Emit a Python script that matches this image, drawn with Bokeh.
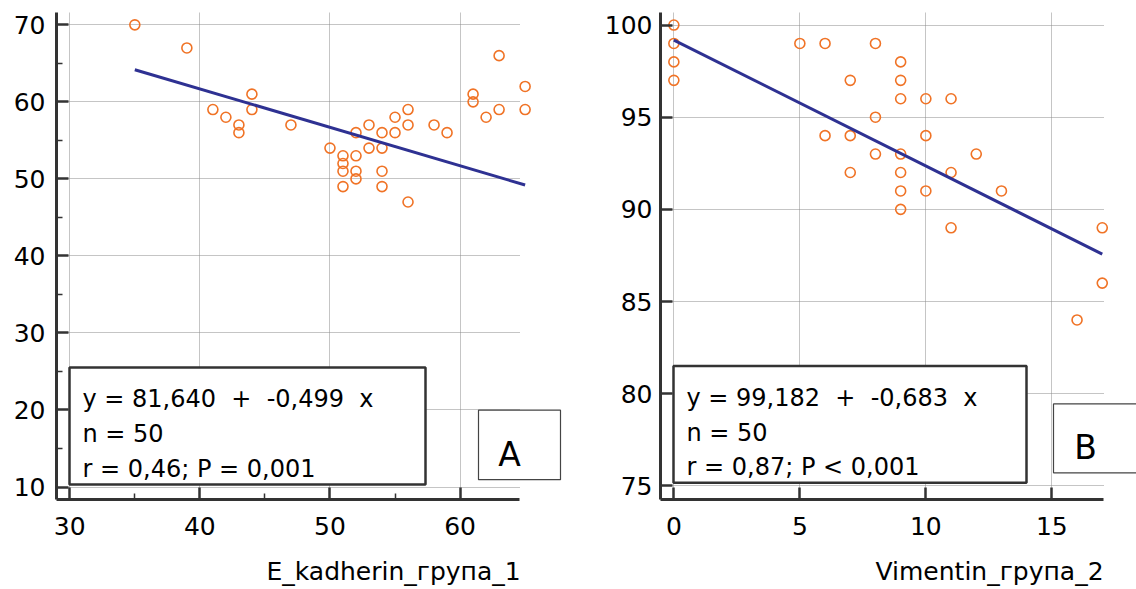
import numpy as np
from bokeh.plotting import figure
from bokeh.models import Range1d, FixedTicker, Label, BoxAnnotation, Title
from bokeh.layouts import row
from bokeh.embed import file_html
from bokeh.resources import INLINE

# ---------------- data ----------------
# Panel A: E_kadherin_група_1
a_x = [35, 39, 41, 42, 43, 43, 44, 44, 47, 50, 51, 51, 51, 51, 52, 52, 52, 52, 53, 53,
       54, 54, 54, 54, 55, 55, 56, 56, 56, 58, 59, 61, 61, 62, 63, 63, 65, 65]
a_y = [70, 67, 59, 58, 57, 56, 61, 59, 57, 54, 53, 52, 51, 49, 56, 53, 51, 50, 57, 54,
       56, 54, 51, 49, 58, 56, 59, 57, 47, 57, 56, 61, 60, 58, 59, 66, 62, 59]
a_intercept, a_slope = 81.640, -0.499
a_xticks = [30, 40, 50, 60]
a_xminor = [35, 45, 55]
a_yticks = [10, 20, 30, 40, 50, 60, 70]
a_yminor = [15, 25, 35, 45, 55, 65]
a_lines = ["y = 81,640 \u00a0+ \u00a0-0,499 \u00a0x", "n = 50", "r = 0,46; P = 0,001"]
a_title = "E_kadherin_група_1"
a_tag = "A"

# Panel B: Vimentin_група_2
b_x = [0, 0, 0, 0, 5, 6, 6, 7, 7, 7, 8, 8, 8, 9, 9, 9, 9, 9, 9, 9,
       10, 10, 10, 11, 11, 11, 12, 13, 16, 17, 17]
b_y = [100, 99, 98, 97, 99, 99, 94, 97, 94, 92, 99, 95, 93, 98, 97, 96, 93, 92, 91, 90,
       96, 94, 91, 96, 92, 89, 93, 91, 84, 89, 86]
b_intercept, b_slope = 99.182, -0.683
b_xticks = [0, 5, 10, 15]
b_yticks = [75, 80, 85, 90, 95, 100]
b_lines = ["y = 99,182 \u00a0+ \u00a0-0,683 \u00a0x", "n = 50", "r = 0,87; P < 0,001"]
b_title = "Vimentin_група_2"
b_tag = "B"

ORANGE = "#F07326"
NAVY = "#2E3192"
AXIS = "#333333"
FONT = "DejaVu Sans"
H = 589


def make_fig(width, xr, xb, yr, mbl, mbb, xt, yt, xminor=None, yminor=None, ystand=10):
    p = figure(width=width, height=H, x_range=Range1d(*xr), y_range=Range1d(*yr),
               output_backend="svg", toolbar_location=None,
               min_border_left=mbl, min_border_right=0, min_border_top=12,
               min_border_bottom=mbb, outline_line_color=None,
               background_fill_color="white", border_fill_color="white")
    p.xaxis.ticker = FixedTicker(ticks=xt, minor_ticks=xminor or [])
    p.yaxis.ticker = FixedTicker(ticks=yt, minor_ticks=yminor or [])
    p.xaxis.bounds = xb
    for ax in (p.xaxis[0], p.yaxis[0]):
        ax.axis_line_color = AXIS
        ax.axis_line_width = 3
        ax.major_tick_in = 12
        ax.major_tick_out = 0
        ax.major_tick_line_color = AXIS
        ax.major_tick_line_width = 2.5
        ax.minor_tick_in = 6
        ax.minor_tick_out = 0
        ax.minor_tick_line_color = AXIS
        ax.minor_tick_line_width = 1.5
        ax.major_label_text_font = FONT
        ax.major_label_text_font_size = "25px"
        ax.major_label_text_color = "black"
    p.xaxis.major_label_standoff = 17
    p.yaxis.major_label_standoff = ystand
    for g in (p.xgrid[0], p.ygrid[0]):
        g.grid_line_color = "#8a8a8a"
        g.grid_line_dash = "1 1"
        g.grid_line_width = 1
    p.ygrid[0].cross_bounds = xb
    return p


def mapper(left, top, scale_x, scale_y, x0, y1):
    def fx(px):
        return x0 + (px - left) / scale_x

    def fy(py):
        return y1 - (py - top) / scale_y
    return fx, fy


def decorate(p, fx, fy, box, lines, text_left, baselines, tagbox, tag_pos, title, title_off):
    l, r, t, b = box
    p.add_layout(BoxAnnotation(left=fx(l), right=fx(r), top=fy(t), bottom=fy(b),
                               fill_color="white", fill_alpha=1.0,
                               line_color=AXIS, line_width=2.5, line_alpha=1.0))
    for txt, bl in zip(lines, baselines):
        p.add_layout(Label(x=fx(text_left), y=fy(bl), text=txt, text_font=FONT,
                           text_font_size="24px", text_color="black",
                           text_baseline="alphabetic", text_align="left"))
    l, r, t, b = tagbox
    p.add_layout(BoxAnnotation(left=fx(l), right=fx(r), top=fy(t), bottom=fy(b),
                               fill_color="white", fill_alpha=1.0,
                               line_color="#444444", line_width=1.2, line_alpha=1.0))
    tx, ty, ttxt = tag_pos
    p.add_layout(Label(x=fx(tx), y=fy(ty), text=ttxt, text_font=FONT,
                       text_font_size="33px", text_color="black",
                       text_baseline="alphabetic", text_align="center"))
    p.add_layout(Title(text=title, align="left", offset=title_off, text_font=FONT,
                       text_font_size="25px", text_font_style="normal",
                       text_color="black", standoff=0), "below")


# ---------------- panel A ----------------
a_sx, a_sy = 13.01, 7.767           # px per data unit
a_x0, a_y0, a_y1 = 28.98, 8.38, 71.6
a_xr = (a_x0, a_x0 + 524 / a_sx)     # frame spans to the canvas edge
a_xb = (a_x0, 64.56)                 # visible axis extent
pa = make_fig(580, a_xr, a_xb, (a_y0, a_y1), 56, 86, a_xticks, a_yticks,
              a_xminor, a_yminor, ystand=11)
pa.scatter(a_x, a_y, marker="circle", size=10, fill_color=None, line_color=ORANGE, line_width=1.6)
ax_line = np.array([min(a_x), max(a_x)], dtype=float)
pa.line(ax_line, a_intercept + a_slope * ax_line, line_color=NAVY, line_width=3)
fxa, fya = mapper(56, 12, a_sx, a_sy, a_x0, a_y1)
decorate(pa, fxa, fya, (69, 425, 370, 488), a_lines, 82, (402, 437, 472),
         (478, 560, 413, 483), (509, 458, a_tag), a_title, 210)

# ---------------- panel B ----------------
b_sx, b_sy = 25.2, 18.46
b_x0, b_y0, b_y1 = -0.53, 74.26, 100.68
b_xr = (b_x0, b_x0 + 476 / b_sx)
b_xb = (b_x0, 17.05)
pb = make_fig(556, b_xr, b_xb, (b_y0, b_y1), 80, 90, b_xticks, b_yticks, ystand=8)
pb.scatter(b_x, b_y, marker="circle", size=10, fill_color=None, line_color=ORANGE, line_width=1.6)
bx_line = np.array([min(b_x), max(b_x)], dtype=float)
pb.line(bx_line, b_intercept + b_slope * bx_line, line_color=NAVY, line_width=3)
fxb, fyb = mapper(660, 12, b_sx, b_sy, b_x0, b_y1)
decorate(pb, fxb, fyb, (673, 1026, 366, 483), b_lines, 686, (398, 433, 467),
         (1053, 1150, 404, 473), (1085, 448, b_tag), b_title, 215)

# spacer between tick labels and the axis title lines
for p in (pa, pb):
    p.xaxis.axis_label = " "
    p.xaxis.axis_label_text_font_size = "2px"
    p.xaxis.axis_label_standoff = 12

layout = row(pa, pb)
open("out.html", "w").write(file_html(layout, INLINE))
